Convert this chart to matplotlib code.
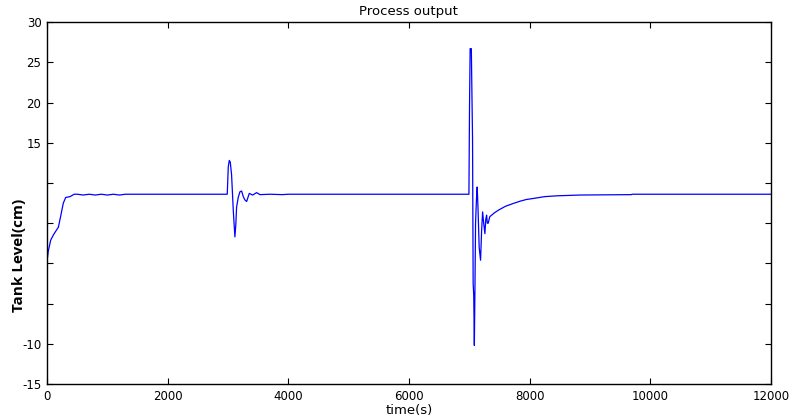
import matplotlib
matplotlib.use("Agg")
from matplotlib import pyplot as plt
import numpy as np

# time (s) and tank level (cm)
t = [0, 20, 61, 110, 188, 230, 270, 310, 381, 450, 503, 600, 700, 800, 900, 1000,
     1100, 1200, 1300, 2988, 3005, 3022, 3038, 3060, 3088, 3105, 3115, 3130, 3143,
     3170, 3198, 3226, 3254, 3280, 3310, 3353, 3409, 3475, 3530, 3700, 3900, 4000,
     6995, 7005, 7015, 7035, 7045, 7055, 7065, 7075, 7085, 7095, 7105, 7120, 7132,
     7145, 7165, 7188, 7205, 7222, 7240, 7260, 7275, 7288, 7300, 7315, 7340, 7371,
     7420, 7480, 7600, 7729, 7850, 7950, 8060, 8250, 8447, 8834, 9690, 9700, 12000]
level = [0.2, 1.5, 2.9, 3.6, 4.5, 6.0, 7.5, 8.2, 8.3, 8.6, 8.6, 8.5, 8.6, 8.5, 8.6, 8.5,
         8.6, 8.5, 8.6, 8.6, 12.0, 12.8, 12.6, 11.0, 6.6, 4.5, 3.3, 4.8, 7.0,
         8.2, 8.9, 9.0, 8.3, 7.9, 7.7, 8.7, 8.5, 8.8, 8.55, 8.6, 8.55, 8.6,
         8.6, 19.5, 26.7, 26.7, 21.0, 15.5, -2.5, -4.0, -10.2, -3.0, 5.0, 8.0, 9.5,
         7.0, 2.0, 0.4, 4.0, 6.4, 5.0, 3.7, 5.5, 6.0, 5.0, 5.0, 5.8, 6.0,
         6.3, 6.6, 7.1, 7.45, 7.75, 7.95, 8.07, 8.3, 8.4, 8.5, 8.55, 8.6, 8.6]

yticks = [-15, -10, -5, 0, 5, 10, 15, 20, 25, 30]
ylabels = ['-15', '-10', '', '', '', '', '15', '20', '25', '30']
xticks = [0, 2000, 4000, 6000, 8000, 10000, 12000]

plt.rcParams['font.family'] = ['DejaVu Sans']

fig = plt.figure(figsize=(7.93, 4.17), dpi=100)
ax = fig.add_axes([0.0593, 0.079, 0.9127, 0.868])

ax.plot(t, level, color='#0000ff', linewidth=0.9)

ax.set_xlim(0, 12000)
ax.set_ylim(-15, 30)
ax.set_xticks(xticks)
ax.set_yticks(yticks)
ax.set_yticklabels(ylabels)
ax.tick_params(direction='in', length=4, width=0.8, labelsize=8.5,
               top=True, right=True, pad=4)
for s in ax.spines.values():
    s.set_linewidth(1.0)

ax.set_title('Process output', fontsize=9.5, pad=5)
ax.set_xlabel('time(s)', fontsize=9.5, labelpad=1)
ax.set_ylabel('Tank Level(cm)', fontsize=11, fontweight='bold',
              family=['Open Sans', 'DejaVu Sans'])
ax.yaxis.set_label_coords(-0.029, 0.356)

fig.savefig('out.png', dpi=100)
